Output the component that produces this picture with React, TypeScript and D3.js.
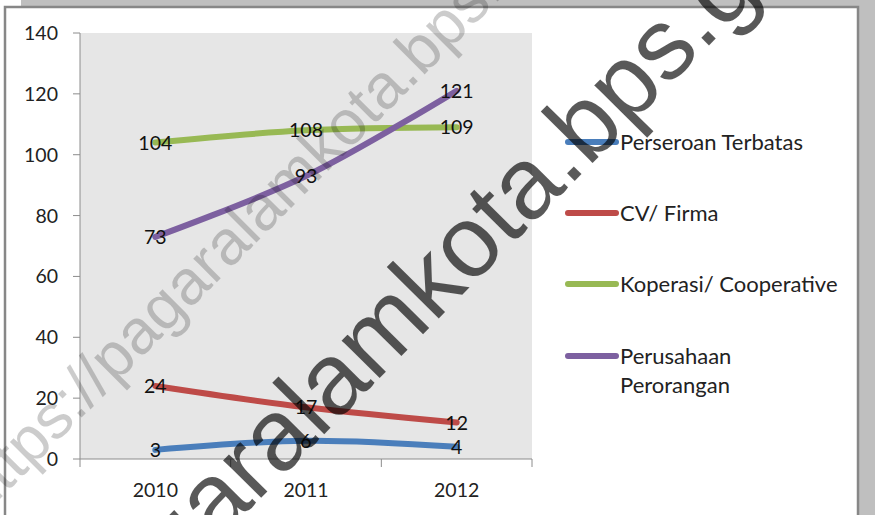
import * as d3 from "d3";

// data
const years = ["2010", "2011", "2012"];
const seriesNames = ["Perseroan Terbatas", "CV/ Firma", "Koperasi/ Cooperative", "Perusahaan Perorangan"];
const perseroanTerbatas = [3, 6, 4];
const cvFirma = [24, 17, 12];
const koperasi = [104, 108, 109];
const perusahaanPerorangan = [73, 93, 121];
const yTicks = [0, 20, 40, 60, 80, 100, 120, 140];
const colors = ["#4a7ebb", "#be4b48", "#98b954", "#7d60a0"];

const W = 875;
const H = 515;
const FONT = "Lato, 'Open Sans', sans-serif";
const WM_FONT = "'Liberation Sans', Arial, sans-serif";
const WATERMARK = "https://pagaralamkota.bps.go.id";

export default function App() {
  const values = [perseroanTerbatas, cvFirma, koperasi, perusahaanPerorangan];

  // plot box
  const left = 80, right = 532, top = 33, bottom = 459;

  const x = d3.scaleBand().domain(years).range([left, right]);
  const y = d3.scaleLinear().domain([0, 140]).range([bottom, top]);
  const cx = (yr: string) => (x(yr) as number) + x.bandwidth() / 2;

  const line = d3
    .line<number>()
    .x((_, i) => cx(years[i]))
    .y((d) => y(d))
    .curve(d3.curveCatmullRom.alpha(0.5));

  const legendRows = [
    { y: 142, lines: ["Perseroan Terbatas"] },
    { y: 213, lines: ["CV/ Firma"] },
    { y: 284, lines: ["Koperasi/ Cooperative"] },
    { y: 356, lines: ["Perusahaan", "Perorangan"] },
  ];

  const bandEdges = [...years.map((yr) => x(yr) as number), right];

  return (
    <svg
      width={W}
      height={H}
      style={{ position: "absolute", left: 0, top: 0, background: "#fff" }}
    >
      {/* outer frame like a pasted chart */}
      <rect x={21} y={0} width={W - 21} height={7} fill="#bfbfbf" />
      <rect x={858} y={0} width={W - 858} height={H} fill="#bfbfbf" />
      <path d={`M5,${H} V7 H858 V${H}`} fill="none" stroke="#878787" strokeWidth={2.5} />

      {/* plot area */}
      <rect x={left} y={top} width={right - left} height={bottom - top} fill="#e6e6e6" />

      {/* y axis */}
      <line x1={left} x2={left} y1={top} y2={bottom} stroke="#8c8c8c" strokeWidth={1} />
      {yTicks.map((t) => (
        <g key={t}>
          <line x1={left - 7} x2={left} y1={y(t)} y2={y(t)} stroke="#8c8c8c" />
          <text
            x={58}
            y={y(t)}
            dy="0.36em"
            textAnchor="end"
            fontFamily={FONT}
            fontSize={19.5}
            fill="#222"
          >
            {t}
          </text>
        </g>
      ))}

      {/* x axis */}
      <line x1={left} x2={right} y1={bottom} y2={bottom} stroke="#8c8c8c" />
      {bandEdges.map((e, i) => (
        <line key={i} x1={e} x2={e} y1={bottom} y2={bottom + 8} stroke="#8c8c8c" />
      ))}
      {years.map((yr) => (
        <text
          key={yr}
          x={cx(yr)}
          y={497}
          textAnchor="middle"
          fontFamily={FONT}
          fontSize={19.5}
          fill="#222"
        >
          {yr}
        </text>
      ))}

      {/* series */}
      {values.map((vals, s) => (
        <path
          key={s}
          d={line(vals) as string}
          fill="none"
          stroke={colors[s]}
          strokeWidth={6}
          strokeLinecap="round"
          strokeLinejoin="round"
        />
      ))}

      {/* data labels */}
      {values.map((vals, s) =>
        vals.map((v, i) => (
          <text
            key={`${s}-${i}`}
            x={cx(years[i])}
            y={y(v)}
            dy="0.36em"
            textAnchor="middle"
            fontFamily={FONT}
            fontSize={19.5}
            fill="#111"
          >
            {v}
          </text>
        ))
      )}

      {/* legend */}
      {legendRows.map((r, i) => (
        <g key={seriesNames[i]}>
          <line
            x1={568}
            x2={616}
            y1={r.y}
            y2={r.y}
            stroke={colors[i]}
            strokeWidth={6}
            strokeLinecap="round"
          />
          {r.lines.map((ln, j) => (
            <text
              key={j}
              x={620}
              y={r.y + j * 29}
              dy="0.36em"
              fontFamily={FONT}
              fontSize={22}
              fill="#222"
            >
              {ln}
            </text>
          ))}
        </g>
      ))}

      {/* watermarks */}
      <text
        transform="translate(-19,518) rotate(-45)"
        fontFamily={WM_FONT}
        fontSize={63}
        fill="#000"
        fillOpacity={0.2}
      >
        {WATERMARK}
      </text>
      <text
        transform="translate(-115,878) rotate(-45.3)"
        fontFamily={WM_FONT}
        fontSize={101}
        fill="#000"
        fillOpacity={0.65}
      >
        {WATERMARK}
      </text>
    </svg>
  );
}
